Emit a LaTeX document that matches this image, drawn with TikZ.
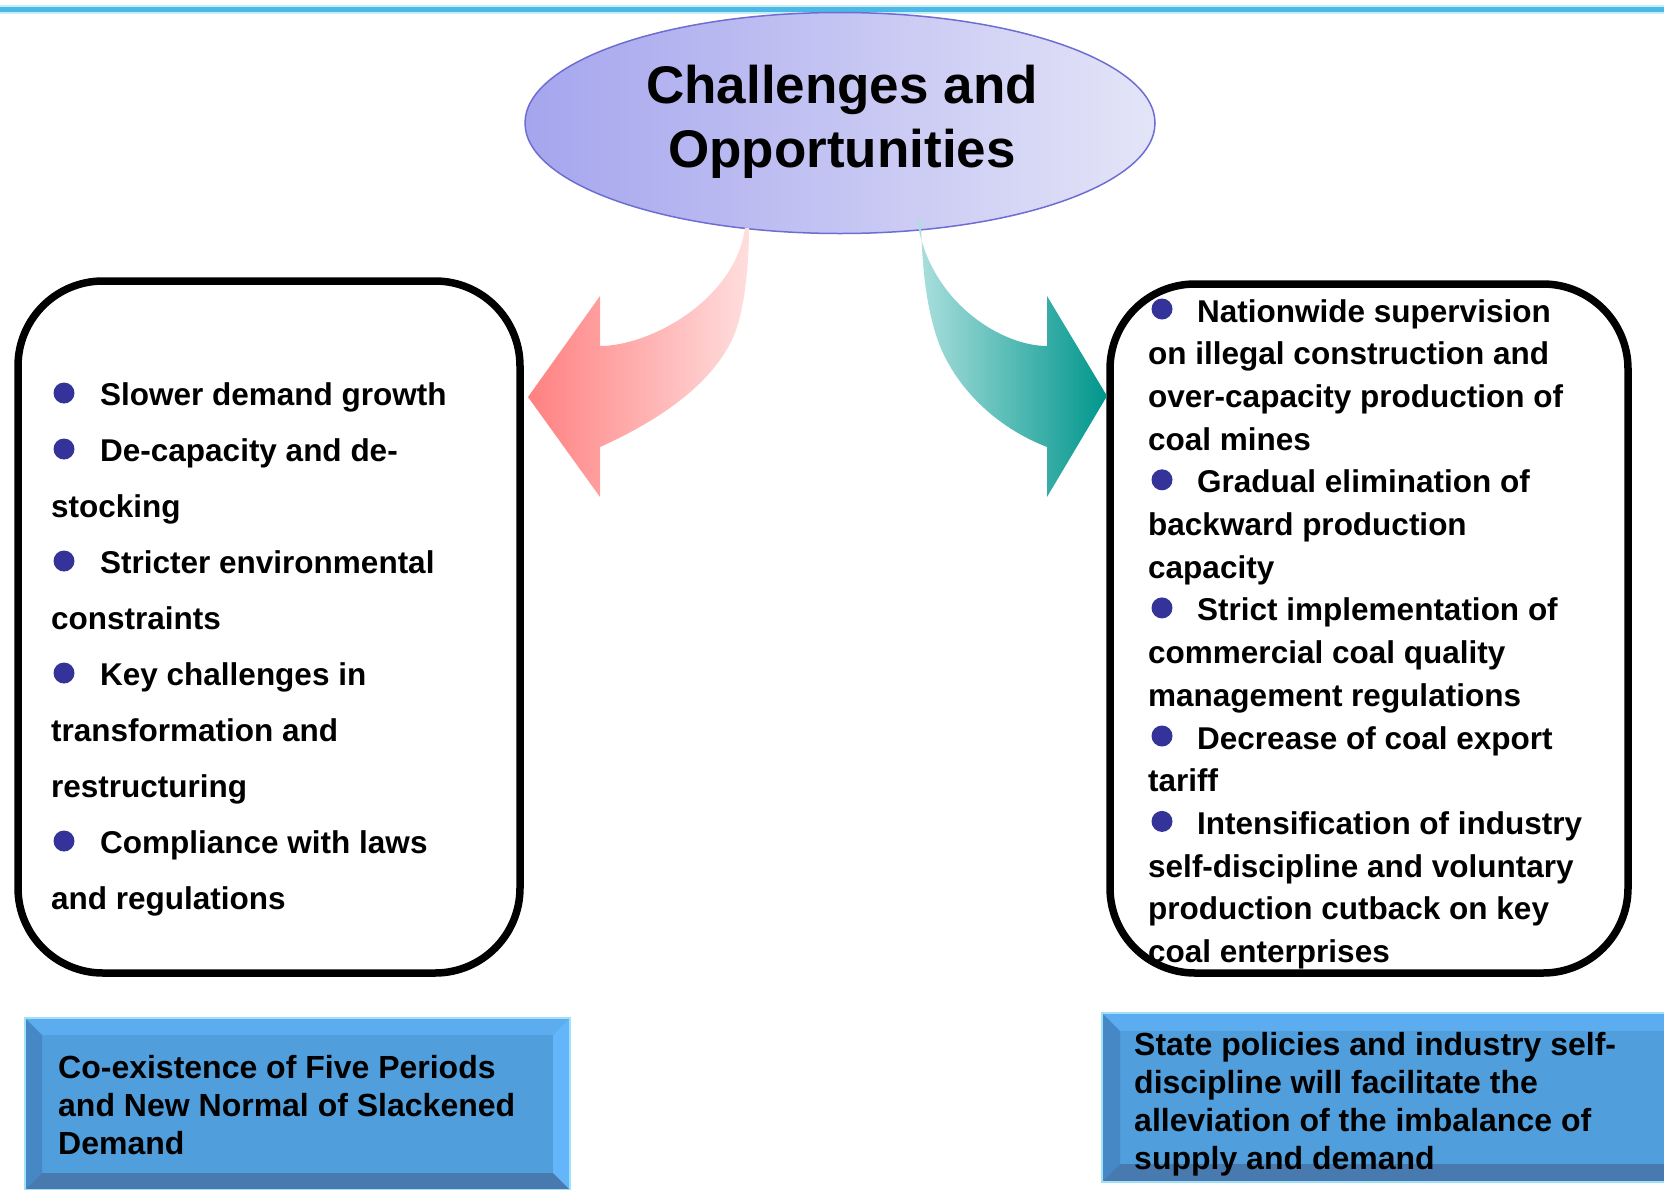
\documentclass[tikz,border=0pt]{standalone}
\usepackage{fontspec}
\setmainfont{Liberation Sans}
\usetikzlibrary{shapes.geometric}
\definecolor{topline}{RGB}{75,185,230}
\definecolor{toplight}{RGB}{200,236,248}
\definecolor{ellL}{RGB}{165,165,238}
\definecolor{ellR}{RGB}{228,228,248}
\definecolor{ellB}{RGB}{110,110,210}
\definecolor{bul}{RGB}{51,51,153}
\definecolor{pinkL}{RGB}{255,128,128}
\definecolor{pinkR}{RGB}{255,222,222}
\definecolor{tealL}{RGB}{172,224,222}
\definecolor{tealR}{RGB}{0,150,140}
\definecolor{bvC}{RGB}{80,158,220}
\definecolor{bvT}{RGB}{92,172,240}
\definecolor{bvL}{RGB}{70,136,198}
\definecolor{bvR}{RGB}{100,182,250}
\definecolor{bvB}{RGB}{72,122,175}
\definecolor{glow}{RGB}{160,225,245}
\newcommand\bevbox[5]{%
 \fill[bvC] (#1,#2) rectangle (#3,#4);
 \fill[bvT] (#1,#2) -- (#3,#2) -- ({#3-#5},{#2+#5}) -- ({#1+#5},{#2+#5}) -- cycle;
 \fill[bvL] (#1,#2) -- ({#1+#5},{#2+#5}) -- ({#1+#5},{#4-#5}) -- (#1,#4) -- cycle;
 \fill[bvR] (#3,#2) -- (#3,#4) -- ({#3-#5},{#4-#5}) -- ({#3-#5},{#2+#5}) -- cycle;
 \fill[bvB] (#1,#4) -- ({#1+#5},{#4-#5}) -- ({#3-#5},{#4-#5}) -- (#3,#4) -- cycle;
 \draw[glow, line width=2] (#1,#2) rectangle (#3,#4);
}
\tikzset{
 txt/.style={font=\fontsize{31.5}{36}\selectfont\bfseries, inner sep=0, anchor=base west},
 btxt/.style={font=\fontsize{32}{38}\selectfont\bfseries, inner sep=0, anchor=base west},
 ttl/.style={font=\fontsize{53}{64}\selectfont\bfseries, inner sep=0, anchor=base},
 dot/.style={circle, fill=bul, minimum size=21, inner sep=0},
 listbox/.style={draw=black, line width=7.5, rounded corners=85, fill=white, inner sep=0}
}
\begin{document}
\begin{tikzpicture}[x=1pt,y=-1pt]
\useasboundingbox (0,0) rectangle (1664,1189);
% top rule
\draw[toplight, line width=9] (0,9.5) -- (1664,9.5);
\draw[topline, line width=5] (0,9.5) -- (1664,9.5);

% list boxes
\node[listbox, minimum width=502, minimum height=692] (lbox) at (269,627) {};
\node[listbox, minimum width=518, minimum height=689] (rbox) at (1369,628.5) {};

% title ellipse
\node[ellipse, draw=ellB, line width=1.5, left color=ellL, right color=ellR,
      minimum width=630, minimum height=221, inner sep=0] (title) at (840,123) {};
\node[ttl] (t1) at (842,103) {Challenges and};
\node[ttl] (t2) at (842,167) {Opportunities};

% curved block arrows
\shade[left color=pinkL, right color=pinkR]
  (528,397) -- (600,296) -- (600,346)
  .. controls (650,346) and (735,300) .. (745,228)
  -- (749,228)
  .. controls (749,268) and (744,315) .. (732,340)
  .. controls (710,385) and (660,420) .. (600,447)
  -- (600,497) -- cycle;
\shade[left color=tealL, right color=tealR]
  (1107,396) -- (1047,296) -- (1047,346)
  .. controls (1000,346) and (928,300) .. (917,219)
  -- (921,222)
  .. controls (922,262) and (925,300) .. (936,335)
  .. controls (950,380) and (990,425) .. (1047,447)
  -- (1047,497) -- cycle;

% left list
\foreach \x/\t [count=\i] in {100/Slower demand growth, 100/De-capacity and de-, 51/stocking, 100/Stricter environmental, 51/constraints, 100/Key challenges in, 51/transformation and, 51/restructuring, 100/Compliance with laws, 51/and regulations}
  \node[txt] (L\i) at (\x,{405+56*(\i-1)}) {\t};
\foreach \i in {1,2,4,6,9}
  \node[dot] (LB\i) at (64,{393+56*(\i-1)}) {};

% right list
\foreach \x/\t [count=\i] in {1197/Nationwide supervision, 1148/on illegal construction and, 1148/over-capacity production of, 1148/coal mines, 1197/Gradual elimination of, 1148/backward production, 1148/capacity, 1197/Strict implementation of, 1148/commercial coal quality, 1148/management regulations, 1197/Decrease of coal export, 1148/tariff, 1197/Intensification of industry, 1148/self-discipline and voluntary, 1148/production cutback on key, 1148/coal enterprises}
  \node[txt] (R\i) at (\x,{322+42.7*(\i-1)}) {\t};
\foreach \i in {1,5,8,11,13}
  \node[dot] (RB\i) at (1162,{309+42.7*(\i-1)}) {};

% bottom bevel boxes
\bevbox{25}{1018}{570}{1190}{17}
\bevbox{1102}{1013}{1690}{1182}{18}
\foreach \t [count=\i] in {Co-existence of Five Periods, and New Normal of Slackened, Demand}
  \node[btxt] (BL\i) at (58,{1078+38*(\i-1)}) {\t};
\foreach \t [count=\i] in {State policies and industry self-, discipline will facilitate the, alleviation of the imbalance of, supply and demand}
  \node[btxt] (BR\i) at (1134,{1055+38*(\i-1)}) {\t};
\end{tikzpicture}
\end{document}
